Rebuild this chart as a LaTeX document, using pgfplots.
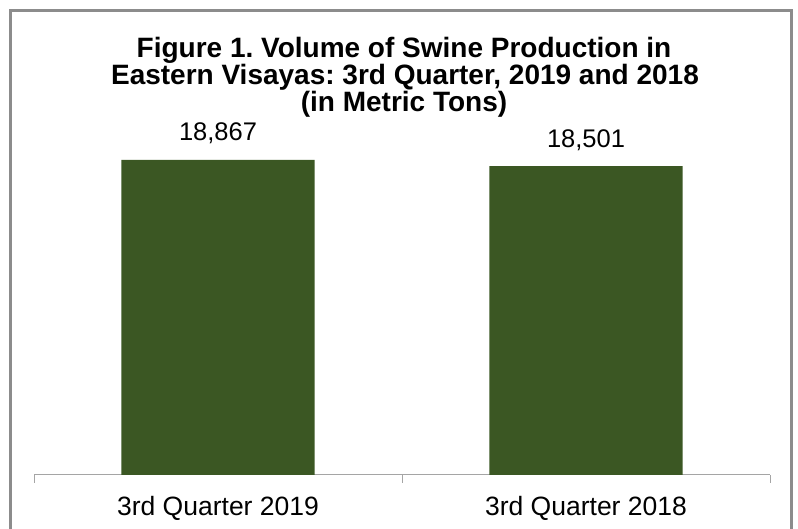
\documentclass[border=0pt]{standalone}
\usepackage{fontspec}
\setmainfont{Liberation Sans}
\usepackage{pgfplots}
\pgfplotsset{compat=1.18}
\definecolor{bargreen}{RGB}{59,87,35}
\definecolor{framegray}{RGB}{140,140,140}
\definecolor{axisgray}{RGB}{165,165,165}
\frenchspacing
\begin{document}
\begin{tikzpicture}[x=1pt,y=1pt]
\useasboundingbox (0,0) rectangle (798,529);
\begin{scope}
\clip (0,0) rectangle (798,529);
\draw[framegray, line width=2.5pt] (10.5,-20) -- (10.5,518.5) -- (791.5,518.5) -- (791.5,-20);
\end{scope}
\begin{axis}[
  at={(34pt,54pt)}, anchor=south west,
  width=736pt, height=334pt, scale only axis,
  xmin=-0.5, xmax=1.5, ymin=0, ymax=20000,
  axis x line*=bottom, axis y line=none,
  x axis line style={axisgray, line width=1pt},
  ybar, bar width=0.525,
  xtick={0,1}, xticklabels={3rd Quarter 2019, 3rd Quarter 2018},
  tick align=outside,
  major tick length=0pt,
  extra x ticks={-0.5,0.5,1.5}, extra x tick labels={},
  extra x tick style={major tick length=8pt, tick style={axisgray, line width=1pt}},
  xticklabel style={font=\fontsize{26.5}{30}\selectfont, anchor=base, yshift=-41pt},
  /pgf/number format/1000 sep={,},
  /pgf/number format/assume math mode=true,
  nodes near coords,
  every node near coord/.append style={font=\fontsize{25.5}{30}\selectfont, anchor=base, yshift=19pt, black},
]
\addplot[fill=bargreen, draw=none] coordinates {(0,18867) (1,18501)};
\end{axis}
\node[font=\bfseries\fontsize{28}{30}\selectfont, anchor=base] at (404,471) {Figure 1. Volume of Swine Production in};
\node[font=\bfseries\fontsize{28}{30}\selectfont, anchor=base] at (405,444) {Eastern Visayas: 3rd Quarter, 2019 and 2018};
\node[font=\bfseries\fontsize{28}{30}\selectfont, anchor=base] at (404,417) {(in Metric Tons)};
\end{tikzpicture}
\end{document}
